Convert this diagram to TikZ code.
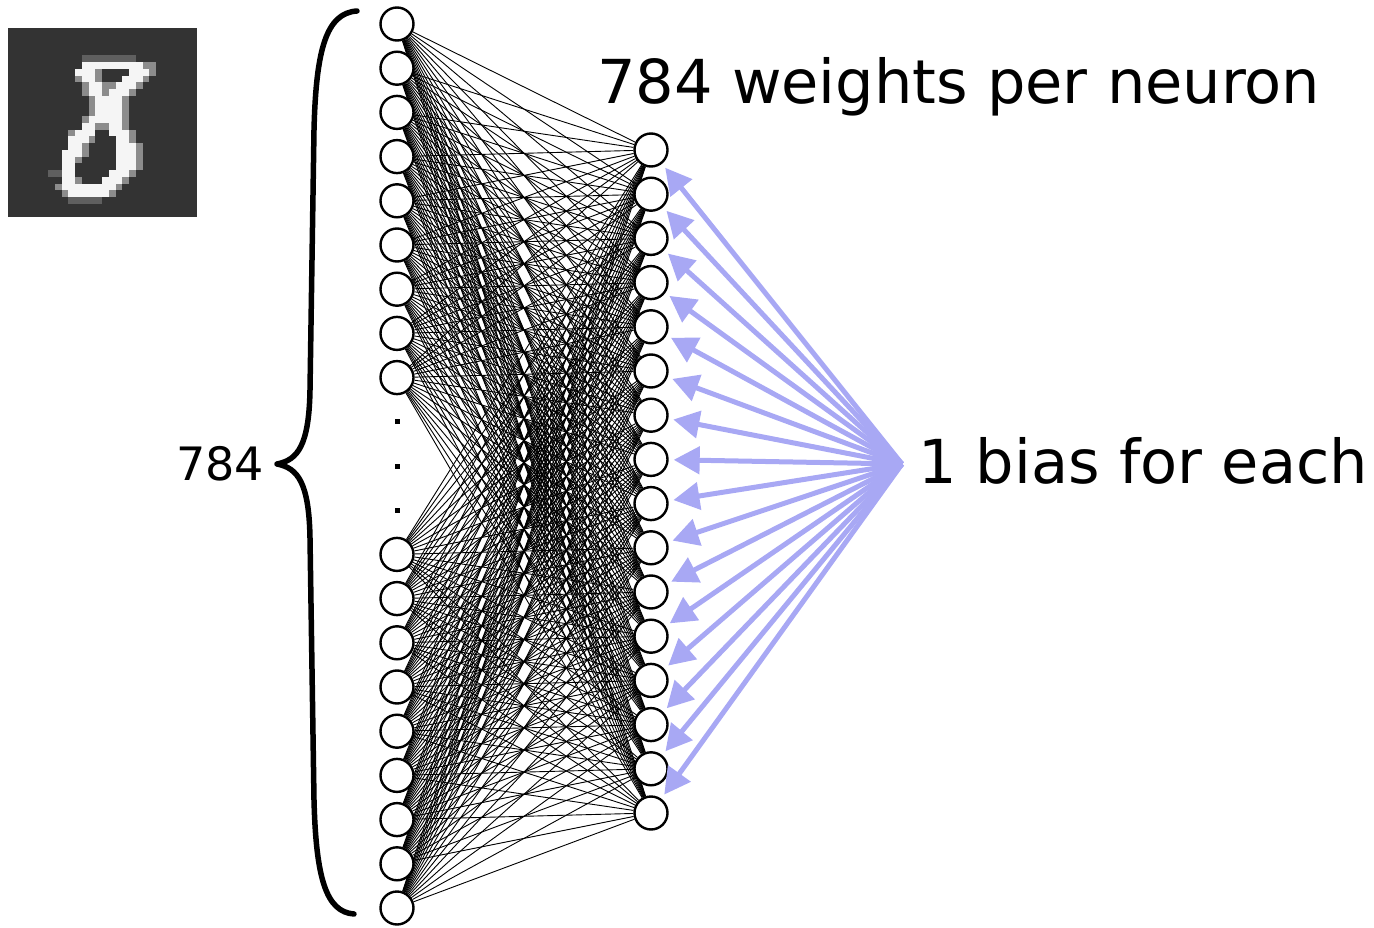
\documentclass[tikz,border=0pt]{standalone}
\usepackage{fontspec}
\newfontfamily\dejavu{DejaVu Sans}
\usetikzlibrary{arrows.meta,backgrounds}
\definecolor{biasblue}{RGB}{168,168,244}
\definecolor{imgbg}{RGB}{51,51,51}
\definecolor{pxw}{RGB}{245,245,245}
\definecolor{pxg}{RGB}{140,140,140}
\definecolor{pxl}{RGB}{95,95,95}
\newcommand\mnrun[4]{\fill[#4] ({7.5+6.75*#2},{28.5+6.75*#1}) rectangle ({7.5+6.75*(#3+1)},{28.5+6.75*(#1+1)});}
\begin{document}
\begin{tikzpicture}[x=1pt,y=-1pt,
  neuron/.style={circle,draw=black,fill=white,line width=2.4pt,minimum size=33pt,inner sep=0pt},
  dotsq/.style={rectangle,fill=black,minimum size=5pt,inner sep=0pt},
  weight/.style={black,line width=0.9pt},
  biasarrow/.style={draw=biasblue,line width=5pt,-{Triangle[length=26pt,width=27pt,fill=biasblue]},shorten >=5pt},
  bracestyle/.style={line width=5.5pt,line cap=round,line join=round},
  lbl/.style={inner sep=0pt,anchor=base west,font=\dejavu\fontsize{60.6}{72}\selectfont}
]
\useasboundingbox (0,0) rectangle (1374,928);

% MNIST digit image
\fill[imgbg] (7.5,28.5) rectangle (196.5,217.5);
\mnrun{4}{11}{18}{pxl}
\mnrun{5}{11}{19}{pxw}\mnrun{5}{20}{21}{pxg}
\mnrun{6}{10}{12}{pxw}\mnrun{6}{13}{13}{pxg}\mnrun{6}{18}{20}{pxw}\mnrun{6}{21}{21}{pxg}
\mnrun{7}{10}{10}{pxg}\mnrun{7}{11}{12}{pxw}\mnrun{7}{13}{13}{pxg}\mnrun{7}{17}{19}{pxw}\mnrun{7}{20}{20}{pxg}
\mnrun{8}{11}{11}{pxg}\mnrun{8}{12}{13}{pxw}\mnrun{8}{14}{15}{pxg}\mnrun{8}{16}{18}{pxw}\mnrun{8}{19}{19}{pxg}
\mnrun{9}{11}{11}{pxg}\mnrun{9}{12}{13}{pxw}\mnrun{9}{14}{14}{pxg}\mnrun{9}{15}{17}{pxw}\mnrun{9}{18}{18}{pxg}
\mnrun{10}{12}{12}{pxg}\mnrun{10}{13}{16}{pxw}\mnrun{10}{17}{17}{pxg}
\mnrun{11}{12}{12}{pxg}\mnrun{11}{13}{16}{pxw}\mnrun{11}{17}{17}{pxg}
\mnrun{12}{12}{12}{pxg}\mnrun{12}{13}{16}{pxw}\mnrun{12}{17}{17}{pxg}
\mnrun{13}{11}{11}{pxg}\mnrun{13}{12}{16}{pxw}\mnrun{13}{17}{17}{pxg}
\mnrun{14}{11}{12}{pxw}\mnrun{14}{13}{14}{pxg}\mnrun{14}{15}{16}{pxw}\mnrun{14}{17}{17}{pxg}
\mnrun{15}{9}{9}{pxg}\mnrun{15}{10}{12}{pxw}\mnrun{15}{15}{17}{pxw}\mnrun{15}{18}{18}{pxg}
\mnrun{16}{9}{11}{pxw}\mnrun{16}{12}{12}{pxg}\mnrun{16}{16}{17}{pxw}\mnrun{16}{18}{18}{pxg}
\mnrun{17}{9}{10}{pxw}\mnrun{17}{11}{11}{pxg}\mnrun{17}{16}{18}{pxw}\mnrun{17}{19}{19}{pxg}
\mnrun{18}{8}{10}{pxw}\mnrun{18}{11}{11}{pxg}\mnrun{18}{16}{18}{pxw}\mnrun{18}{19}{19}{pxg}
\mnrun{19}{8}{9}{pxw}\mnrun{19}{10}{10}{pxg}\mnrun{19}{16}{18}{pxw}\mnrun{19}{19}{19}{pxg}
\mnrun{20}{8}{9}{pxw}\mnrun{20}{16}{18}{pxw}\mnrun{20}{19}{19}{pxg}
\mnrun{21}{6}{7}{pxl}\mnrun{21}{8}{9}{pxw}\mnrun{21}{15}{17}{pxw}\mnrun{21}{18}{18}{pxg}
\mnrun{22}{8}{9}{pxw}\mnrun{22}{10}{10}{pxg}\mnrun{22}{14}{16}{pxw}\mnrun{22}{17}{17}{pxg}
\mnrun{23}{7}{7}{pxg}\mnrun{23}{8}{15}{pxw}\mnrun{23}{16}{16}{pxg}
\mnrun{24}{8}{8}{pxg}\mnrun{24}{9}{14}{pxw}\mnrun{24}{15}{15}{pxg}
\mnrun{25}{9}{13}{pxl}

% input layer
\foreach \k in {0,1,2,3,4,5,6,7,8,12,13,14,15,16,17,18,19,20}
  \node[neuron] (l\k) at (397,{24+44.2*\k}) {};
\foreach \k in {9,10,11}
  \node[dotsq] (d\k) at (397,{24+44.2*\k}) {};
% hidden layer
\foreach \j in {0,...,15}
  \node[neuron] (r\j) at (651,{150+44.2*\j}) {};

% weights
\begin{pgfonlayer}{background}
\foreach \k in {0,1,2,3,4,5,6,7,8,12,13,14,15,16,17,18,19,20}
  \foreach \j in {0,...,15}
    \draw[weight] (l\k) -- (r\j);
\end{pgfonlayer}

% biases
\coordinate (bias) at (902,464);
\foreach \j in {0,...,15}
  \draw[biasarrow] (bias) -- (r\j);

% brace
\draw[bracestyle] (357,11) .. controls (326,13) and (316,50) .. (314,130)
  -- (310,390) .. controls (309,445) and (298,460) .. (277,464)
  .. controls (298,468) and (309,483) .. (310,538)
  -- (314,800) .. controls (316,878) and (326,912) .. (354,914);

% labels
\node[lbl] (title) at (597,104) {784 weights per neuron};
\node[lbl] (biaslbl) at (918,483) {1 bias for each};
\node[inner sep=0pt,anchor=base west,font=\dejavu\fontsize{46}{55}\selectfont] (count) at (176,480) {784};
\end{tikzpicture}
\end{document}
